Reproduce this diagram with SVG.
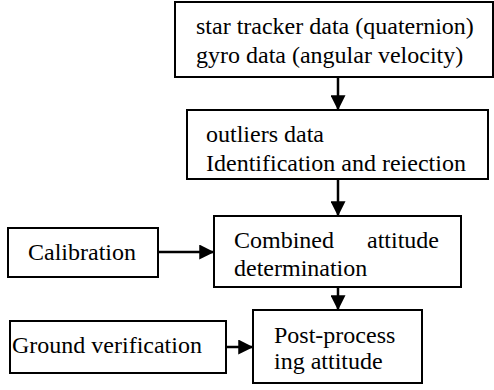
<svg xmlns="http://www.w3.org/2000/svg" width="494" height="390" viewBox="0 0 494 390">
<style>
.box{fill:#fff;stroke:#000;stroke-width:2}
.c{stroke:#000;stroke-width:2.5;fill:none}
</style>
<defs>
<marker id="ah" markerWidth="6" markerHeight="6" refX="5.5" refY="3" orient="auto" markerUnits="strokeWidth" viewBox="0 0 6 6">
<path d="M0,0 L6,3 L0,6 Z" fill="#000"/>
</marker>
</defs>
<rect width="494" height="390" fill="#fff"/>
<g id="connectors">
<line class="c" x1="338" y1="77" x2="338" y2="109" marker-end="url(#ah)"/>
<line class="c" x1="338" y1="179" x2="338" y2="215" marker-end="url(#ah)"/>
<line class="c" x1="338" y1="287" x2="338" y2="309" marker-end="url(#ah)"/>
<line class="c" x1="158" y1="252" x2="213" y2="252" marker-end="url(#ah)"/>
<line class="c" x1="226" y1="347" x2="252" y2="347" marker-end="url(#ah)"/>
</g>
<g id="node-sensors">
<rect class="box" x="175" y="2" width="318" height="75"/>
<text x="196" y="34" style="font-family:'Liberation Serif',serif !important;font-size:24px !important">star tracker data (quaternion)</text>
<text x="196" y="63" style="font-family:'Liberation Serif',serif !important;font-size:24px !important">gyro data (angular velocity)</text>
</g>
<g id="node-outliers">
<rect class="box" x="187" y="110" width="301" height="69"/>
<text x="206" y="142" style="font-family:'Liberation Serif',serif !important;font-size:24px !important">outliers data</text>
<text x="206" y="171" style="font-family:'Liberation Serif',serif !important;font-size:24px !important">Identification and reiection</text>
</g>
<g id="node-combined">
<rect class="box" x="214" y="216" width="247" height="71"/>
<text x="234" y="248" style="font-family:'Liberation Serif',serif !important;font-size:24px !important">Combined</text>
<text x="439" y="248" text-anchor="end" style="font-family:'Liberation Serif',serif !important;font-size:24px !important">attitude</text>
<text x="234" y="276" style="font-family:'Liberation Serif',serif !important;font-size:24px !important">determination</text>
</g>
<g id="node-calibration">
<rect class="box" x="8" y="228" width="150" height="49"/>
<text x="28" y="260" style="font-family:'Liberation Serif',serif !important;font-size:24px !important">Calibration</text>
</g>
<g id="node-postprocess">
<rect class="box" x="253" y="310" width="169" height="73"/>
<text x="274" y="343" style="font-family:'Liberation Serif',serif !important;font-size:24px !important">Post-process</text>
<text x="274" y="369" style="font-family:'Liberation Serif',serif !important;font-size:24px !important">ing attitude</text>
</g>
<g id="node-ground">
<rect class="box" x="10" y="321" width="216" height="52"/>
<text x="12" y="353" style="font-family:'Liberation Serif',serif !important;font-size:24px !important">Ground verification</text>
</g>
</svg>
